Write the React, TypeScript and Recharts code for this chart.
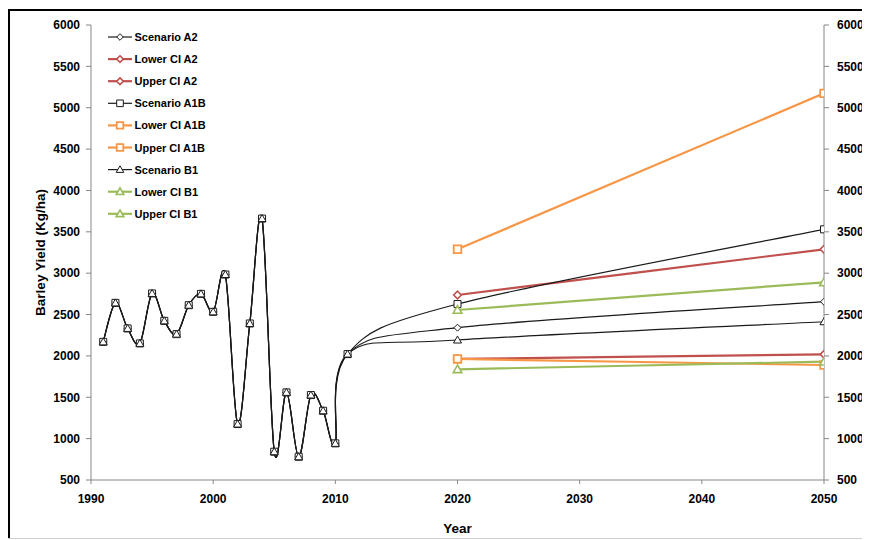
import React from 'react';
import { LineChart, Line, XAxis, YAxis, Label } from 'recharts';

const histYears = [1991, 1992, 1993, 1994, 1995, 1996, 1997, 1998, 1999, 2000, 2001, 2002, 2003, 2004, 2005, 2006, 2007, 2008, 2009, 2010, 2011];
const histYield = [2170, 2641, 2332, 2151, 2755, 2424, 2263, 2613, 2750, 2533, 2984, 1176, 2392, 3660, 842, 1559, 781, 1527, 1337, 943, 2022];

const projYears = [2020, 2050];
const scenarioA2 = [2341, 2655];
const lowerA2 = [1963, 2019];
const upperA2 = [2736, 3289];
const scenarioA1B = [2627, 3530];
const lowerA1B = [1963, 1890];
const upperA1B = [3289, 5174];
const scenarioB1 = [2192, 2413];
const lowerB1 = [1838, 1930];
const upperB1 = [2555, 2890];

const xTicks = [1990, 2000, 2010, 2020, 2030, 2040, 2050];
const yTicks = [500, 1000, 1500, 2000, 2500, 3000, 3500, 4000, 4500, 5000, 5500, 6000];

type Row = { year: number; [k: string]: number | null };

const data: Row[] = [
  ...histYears.map((y, i) => ({
    year: y,
    sA2: histYield[i], lA2: null, uA2: null,
    sA1B: histYield[i], lA1B: null, uA1B: null,
    sB1: histYield[i], lB1: null, uB1: null,
  })),
  ...projYears.map((y, i) => ({
    year: y,
    sA2: scenarioA2[i], lA2: lowerA2[i], uA2: upperA2[i],
    sA1B: scenarioA1B[i], lA1B: lowerA1B[i], uA1B: upperA1B[i],
    sB1: scenarioB1[i], lB1: lowerB1[i], uB1: upperB1[i],
  })),
];

// Excel-like smoothed line (cardinal spline, tension 0)
function excelCurve(context: any) {
  let xs: number[] = [];
  let ys: number[] = [];
  return {
    areaStart() {},
    areaEnd() {},
    lineStart() { xs = []; ys = []; },
    point(x: number, y: number) { xs.push(+x); ys.push(+y); },
    lineEnd() {
      const n = xs.length;
      if (n === 0) return;
      context.moveTo(xs[0], ys[0]);
      if (n === 1) { context.lineTo(xs[0], ys[0]); return; }
      for (let i = 0; i < n - 1; i++) {
        const p0 = i > 0 ? i - 1 : i;
        const p3 = i + 2 < n ? i + 2 : i + 1;
        const c1x = xs[i] + (xs[i + 1] - xs[p0]) / 6;
        const c1y = ys[i] + (ys[i + 1] - ys[p0]) / 6;
        const c2x = xs[i + 1] - (xs[p3] - xs[i]) / 6;
        const c2y = ys[i + 1] - (ys[p3] - ys[i]) / 6;
        context.bezierCurveTo(c1x, c1y, c2x, c2y, xs[i + 1], ys[i + 1]);
      }
    },
  };
}

type Shape = 'diamond' | 'square' | 'triangle';

function markerPath(shape: Shape, cx: number, cy: number, s: number) {
  if (shape === 'diamond') return `M${cx},${cy - s}L${cx + s},${cy}L${cx},${cy + s}L${cx - s},${cy}Z`;
  if (shape === 'square') return `M${cx - s},${cy - s}L${cx + s},${cy - s}L${cx + s},${cy + s}L${cx - s},${cy + s}Z`;
  return `M${cx},${cy - s - 0.5}L${cx + s + 0.5},${cy + s - 0.5}L${cx - s - 0.5},${cy + s - 0.5}Z`;
}

const makeDot = (shape: Shape, color: string, size: number, sw: number, id: string) => (props: any) => {
  const { cx, cy, index } = props;
  if (cx == null || cy == null || props.value == null) return <g key={`${id}-${index}`} />;
  return (
    <path key={`${id}-${index}`} d={markerPath(shape, cx, cy, size)} fill="#fff" stroke={color} strokeWidth={sw} />
  );
};

const BLACK = '#1a1a1a';
const RED = '#C0504D';
const ORANGE = '#F79646';
const GREEN = '#9BBB59';

const series = [
  { key: 'sA2', name: 'Scenario A2', color: BLACK, shape: 'diamond' as Shape, width: 1.2, size: 3.5, sw: 1 },
  { key: 'lA2', name: 'Lower CI A2', color: RED, shape: 'diamond' as Shape, width: 2.2, size: 3.8, sw: 1.6 },
  { key: 'uA2', name: 'Upper CI A2', color: RED, shape: 'diamond' as Shape, width: 2.2, size: 3.8, sw: 1.6 },
  { key: 'sA1B', name: 'Scenario A1B', color: BLACK, shape: 'square' as Shape, width: 1.2, size: 3.5, sw: 1 },
  { key: 'lA1B', name: 'Lower CI A1B', color: ORANGE, shape: 'square' as Shape, width: 2.2, size: 3.8, sw: 1.8 },
  { key: 'uA1B', name: 'Upper CI A1B', color: ORANGE, shape: 'square' as Shape, width: 2.2, size: 3.8, sw: 1.8 },
  { key: 'sB1', name: 'Scenario B1', color: BLACK, shape: 'triangle' as Shape, width: 1.2, size: 3.5, sw: 1 },
  { key: 'lB1', name: 'Lower CI B1', color: GREEN, shape: 'triangle' as Shape, width: 2.2, size: 3.8, sw: 1.6 },
  { key: 'uB1', name: 'Upper CI B1', color: GREEN, shape: 'triangle' as Shape, width: 2.2, size: 3.8, sw: 1.6 },
];

const FONT = "'Liberation Sans', Arial, sans-serif";

const LegendContent = () => (
  <svg width={130} height={200} style={{ display: 'block', overflow: 'visible' }}>
    {series.map((s, i) => {
      const y = 8 + i * 22.1;
      return (
        <g key={s.key}>
          <line x1={0} x2={24} y1={y} y2={y} stroke={s.color} strokeWidth={s.width} />
          <path d={markerPath(s.shape, 12, y, 3.3)} fill="#fff" stroke={s.color} strokeWidth={s.sw} />
          <text x={26.5} y={y} dominantBaseline="central" fontFamily={FONT} fontSize={11} fontWeight="bold" fill="#000">
            {s.name}
          </text>
        </g>
      );
    })}
  </svg>
);

const tickStyle = { fontFamily: FONT, fontSize: 12, fontWeight: 'bold', fill: '#000' };
const AXIS = '#868686';

export default function App() {
  return (
    <div style={{ position: 'relative', width: 862, height: 532, fontFamily: FONT }}>
      <div style={{ position: 'absolute', left: 0, top: 1, width: 862, height: 2, background: '#000' }} />
      <div style={{ position: 'absolute', left: 0, top: 1, width: 2, height: 530, background: '#000' }} />
      <div style={{ position: 'absolute', left: 0, top: 530, width: 862, height: 1, background: '#d0d0d0' }} />
      <div style={{ position: 'absolute', left: 0, top: 0 }}>
        <LineChart width={862} height={530} data={data} margin={{ top: 17, right: 0, bottom: 8, left: 23 }}>
          <XAxis
            dataKey="year"
            type="number"
            domain={[1990, 2050]}
            ticks={xTicks}
            allowDataOverflow
            stroke={AXIS}
            tickSize={4}
            tickMargin={10}
            height={50}
            tick={tickStyle}
            tickLine={{ stroke: AXIS }}
          >
            <Label value="Year" position="insideBottom" offset={-3} style={{ fontFamily: FONT, fontSize: 13.5, fontWeight: 'bold', fill: '#000' }} />
          </XAxis>
          <YAxis
            yAxisId="left"
            domain={[500, 6000]}
            ticks={yTicks}
            allowDataOverflow
            width={60}
            stroke={AXIS}
            tickSize={5}
            tickMargin={6}
            tick={tickStyle}
            tickLine={{ stroke: AXIS }}
          >
            <Label
              value="Barley Yield (Kg/ha)"
              angle={-90}
              position="insideLeft"
              offset={9}
              style={{ fontFamily: FONT, fontSize: 13.5, fontWeight: 'bold', fill: '#000', textAnchor: 'middle' }}
            />
          </YAxis>
          <YAxis
            yAxisId="right"
            orientation="right"
            domain={[500, 6000]}
            ticks={yTicks}
            allowDataOverflow
            width={46}
            stroke={AXIS}
            tickSize={5}
            tickMargin={8}
            tick={tickStyle}
            tickLine={{ stroke: AXIS }}
          />
          {series.map((s) => (
            <Line
              key={s.key}
              yAxisId="left"
              dataKey={s.key}
              name={s.name}
              type={excelCurve as any}
              stroke={s.color}
              strokeWidth={s.width}
              dot={makeDot(s.shape, s.color, s.size, s.sw, s.key)}
              activeDot={false}
              connectNulls
              isAnimationActive={false}
            />
          ))}
        </LineChart>
      </div>
      <div style={{ position: 'absolute', left: 100, top: 21 }}>
        <LegendContent />
      </div>
    </div>
  );
}
